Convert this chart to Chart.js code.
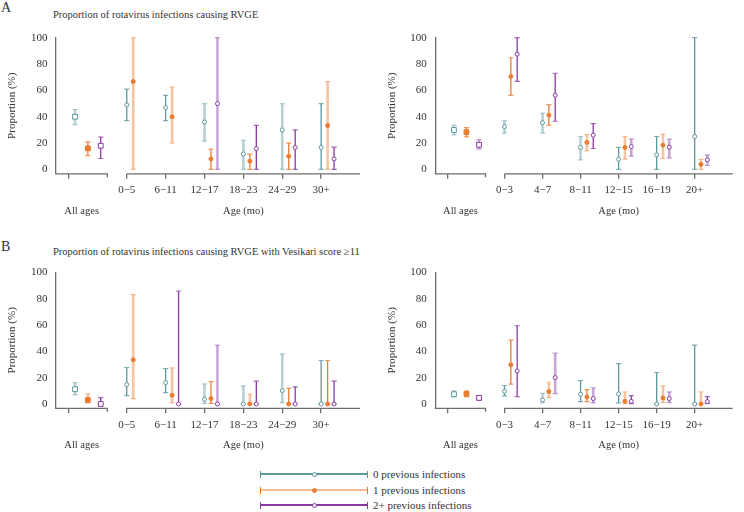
<!DOCTYPE html>
<html><head><meta charset="utf-8">
<script src="https://cdn.jsdelivr.net/npm/chart.js@4"></script>
<style>
body{margin:0;background:#fff;width:744px;height:512px;position:relative;overflow:hidden;font-family:'Liberation Serif',serif;color:#333}
canvas{position:absolute}
.t{position:absolute;white-space:nowrap;font-size:10.5px;line-height:14px}
.ln{position:absolute}
</style></head><body>
<div class="t" style="left:1px;top:0px;font-size:14px;line-height:16px">A</div>
<div class="t" style="left:53px;top:8px">Proportion of rotavirus infections causing RVGE</div>
<div class="t" style="left:1px;top:239px;font-size:14px;line-height:16px">B</div>
<div class="t" style="left:53px;top:245px">Proportion of rotavirus infections causing RVGE with Vesikari score ≥11</div>
<canvas id="al" width="372" height="240" style="left:0;top:0;width:372px;height:240px"></canvas>
<canvas id="ar" width="372" height="240" style="left:372px;top:0;width:372px;height:240px"></canvas>
<canvas id="bl" width="372" height="220" style="left:0;top:240px;width:372px;height:220px"></canvas>
<canvas id="br" width="372" height="220" style="left:372px;top:240px;width:372px;height:220px"></canvas>
<div id="legend"></div>
<script>
// ---------- data ----------
const seriesNames = ['0 previous infections', '1 previous infections', '2+ previous infections'];
const agesA = ['0−5', '6−11', '12−17', '18−23', '24−29', '30+'];
const agesR = ['0−3', '4−7', '8−11', '12−15', '16−19', '20+'];
const yTicks = [0, 20, 40, 60, 80, 100];
const groupLabel = 'All ages';
const axisLabel = 'Age (mo)';
const yTitle = 'Proportion (%)';

// Panel A, left (all ages: series 0,1,2)
const AL_allEst = [40, 16, 18], AL_allLo = [34, 10.5, 8.3], AL_allHi = [45.5, 21, 24.5];
const AL_est0 = [49, 47, 36, 11.8, 30, 16.7], AL_lo0 = [37, 37, 21.5, 0, 0, 0], AL_hi0 = [61, 56.3, 50, 22.2, 50, 50];
const AL_est1 = [66.7, 40, 8, 6.3, 10, 33.3], AL_lo1 = [0, 20, 0, 0, 0, 0], AL_hi1 = [100, 62.5, 15.4, 11.6, 20, 66.7];
const AL_est2 = [null, null, 50, 15.8, 16.7, 8], AL_lo2 = [null, null, 0, 0, 0, 0], AL_hi2 = [null, null, 100, 33.5, 30, 16.9];

// Panel A, right
const AR_allEst = [30, 28.3, 18.7], AR_allLo = [26.3, 24.7, 15.4], AR_allHi = [33.6, 31.8, 22.7];
const AR_est0 = [32.5, 35.5, 16.7, 7.7, 11.1, 25], AR_lo0 = [27.5, 27.5, 7.3, 0, 0, 0], AR_hi0 = [37, 42.7, 25, 16.7, 25, 100];
const AR_est1 = [70.5, 41.2, 20.5, 16.7, 18.4, 3.8], AR_lo1 = [56.3, 33.6, 14.1, 7.8, 8.3, 0], AR_hi1 = [84.8, 49.2, 26.5, 25, 26.8, 7.6];
const AR_est2 = [87.5, 56.3, 26, 17.4, 16.9, 7.3], AR_lo2 = [66.9, 36.6, 15.9, 10.1, 8.8, 3], AR_hi2 = [100, 73, 34.8, 23.2, 23, 11.1];

// Panel B, left
const BL_allEst = [11.2, 3, 0], BL_allLo = [6.9, 0.8, 0], BL_allHi = [16.2, 7.6, 4.8];
const BL_est0 = [14.7, 16.2, 3.6, 0, 10.2, 0], BL_lo0 = [6.3, 8.6, 0.3, 0, 1, 0], BL_hi0 = [27.7, 26.9, 15.2, 13.7, 38, 33];
const BL_est1 = [33.5, 6.6, 4.1, 0, 0, 0], BL_lo1 = [3.8, 0.8, 0.5, 0, 0, 0], BL_hi1 = [83, 27.4, 17, 7.4, 11.9, 33];
const BL_est2 = [null, 0, 0, 0, 0, 0], BL_lo2 = [null, 0, 0, 0, 0, 0], BL_hi2 = [null, 85.8, 44.7, 17.3, 12.9, 17.3];

// Panel B, right
const BR_allEst = [7.4, 7.6, 4.6], BR_allLo = [5.3, 5.3, 2.8], BR_allHi = [9.9, 10.4, 6.3];
const BR_est0 = [9.6, 3, 7.4, 7.6, 0, 0], BR_lo0 = [6.1, 0.8, 1.8, 0.8, 0, 0], BR_hi0 = [14, 8.1, 17.8, 30.7, 23.9, 44.7];
const BR_est1 = [29.7, 9.4, 5.3, 2, 4.6, 0], BR_lo1 = [15, 4.8, 1.8, 0.3, 1, 0], BR_hi1 = [48.5, 16.5, 10.9, 9.1, 13.7, 9.1];
const BR_est2 = [25.1, 20, 4.1, 2, 4.1, 1.8], BR_lo2 = [5.6, 7.9, 0.8, 0.3, 1, 0.5], BR_hi2 = [59.4, 38.6, 12.2, 6.3, 9.1, 5.6];

// ---------- style (faint bars: index 0 = all ages, then age groups) ----------
const AL_faint = [[1,0,0,1,1,1,0],[0,1,1,0,0,0,1],[0,0,0,1,0,0,0]];
const AR_faint = [[1,1,1,1,0,0,0],[0,0,0,1,1,1,1],[1,0,0,0,1,1,1]];
const BL_faint = [[1,0,0,1,1,1,0],[1,1,1,0,1,0,0],[0,0,0,1,0,0,0]];
const BR_faint = [[1,0,1,0,0,0,0],[1,0,1,0,1,1,1],[0,0,1,1,0,1,0]];

const RGB = [[92,152,157],[233,124,48],[138,58,162]];
const col = (s, a) => `rgba(${RGB[s][0]},${RGB[s][1]},${RGB[s][2]},${a})`;
const FONT = "'Liberation Serif', serif";
const FS = 11, FS2 = 10.5;
const AXIS_COL = '#6e6e6e';
const X_MIN = -1.82, X_MAX = 6.0, GROUP_TICK = -1.5, GROUP_END = -0.5;
const ALL_OFF = [0.17, 0.5, 0.83], AGE_OFF = [0, 0.167, 0.333];

const errorBars = {
  id: 'errorBars',
  beforeDatasetsDraw(chart) {
    const {ctx, scales: {x, y}} = chart;
    ctx.save();
    chart.data.datasets.forEach(ds => {
      ds.data.forEach(p => {
        const px = x.getPixelForValue(p.x);
        const yt = y.getPixelForValue(p.hi), yb = y.getPixelForValue(p.lo);
        ctx.strokeStyle = p.faint ? col(ds.sIdx, 0.45) : col(ds.sIdx, 1);
        ctx.lineWidth = p.faint ? 2.6 : 1.3;
        ctx.beginPath(); ctx.moveTo(px, yt); ctx.lineTo(px, yb); ctx.stroke();
        ctx.strokeStyle = col(ds.sIdx, p.faint ? 0.45 : 0.75);
        ctx.lineWidth = 1.2;
        ctx.beginPath();
        ctx.moveTo(px - 2.6, yt); ctx.lineTo(px + 2.6, yt);
        ctx.moveTo(px - 2.6, yb); ctx.lineTo(px + 2.6, yb);
        ctx.stroke();
      });
    });
    ctx.restore();
  }
};

const axisDeco = {
  id: 'axisDeco',
  afterDraw(chart) {
    const {ctx, chartArea: a, scales: {x}} = chart;
    ctx.save();
    ctx.strokeStyle = AXIS_COL; ctx.lineWidth = 1.3;
    const yb = a.bottom;
    const e1 = x.getPixelForValue(GROUP_END), s2 = x.getPixelForValue(0);
    ctx.beginPath();
    ctx.moveTo(a.left - 0.6, yb); ctx.lineTo(e1, yb); ctx.lineTo(e1, yb + 3.5);
    ctx.moveTo(s2, yb); ctx.lineTo(a.right, yb);
    ctx.stroke();
    if (chart.options.plugins.axisDeco.labels) {
      ctx.fillStyle = '#333'; ctx.font = FS2 + 'px ' + FONT;
      ctx.textAlign = 'center'; ctx.textBaseline = 'middle';
      ctx.fillText(groupLabel, x.getPixelForValue((X_MIN + GROUP_END) / 2), yb + 37);
      ctx.fillText(axisLabel, x.getPixelForValue(X_MAX / 2), yb + 37);
    }
    ctx.restore();
  }
};

function panel(id, cats, allEst, allLo, allHi, est, lo, hi, faint, L) {
  const datasets = [0, 1, 2].map(s => {
    const pts = [{x: GROUP_TICK + ALL_OFF[s], y: allEst[s], lo: allLo[s], hi: allHi[s], faint: faint[s][0], all: true}];
    cats.forEach((c, i) => {
      if (est[s][i] == null) return;
      pts.push({x: i + AGE_OFF[s], y: est[s][i], lo: lo[s][i], hi: hi[s][i], faint: faint[s][i + 1], all: false});
    });
    return {
      label: seriesNames[s], sIdx: s, data: pts, clip: false, showLine: false,
      pointStyle: c => (c.raw && c.raw.all) ? 'rect' : 'circle',
      pointRadius: c => (c.raw && c.raw.all) ? 3.4 : 2,
      borderColor: col(s, 1), backgroundColor: s === 1 ? col(s, 1) : '#fff', borderWidth: 1
    };
  });
  new Chart(document.getElementById(id), {
    type: 'scatter',
    data: {datasets},
    plugins: [errorBars, axisDeco],
    options: {
      responsive: false, animation: false, events: [],
      layout: {padding: {left: 0, right: L.pr, top: L.pt, bottom: 0}},
      plugins: {legend: {display: false}, tooltip: {enabled: false}, axisDeco: {labels: L.labels}},
      scales: {
        x: {
          type: 'linear', min: X_MIN, max: X_MAX,
          afterBuildTicks: sc => { sc.ticks = [GROUP_TICK].concat(cats.map((c, i) => i)).map(v => ({value: v})); },
          afterFit: sc => { sc.height = L.xh; },
          ticks: {autoSkip: false, maxRotation: 0, padding: 5, color: '#333', font: {family: FONT, size: FS},
            callback: (v, i) => i === 0 ? '' : cats[i - 1]},
          grid: {drawOnChartArea: false, drawTicks: true, tickLength: 5, color: AXIS_COL, lineWidth: 1.3},
          border: {display: false}
        },
        y: {
          type: 'linear', min: -3.3, max: 100,
          afterBuildTicks: sc => { sc.ticks = yTicks.map(v => ({value: v})); },
          afterFit: sc => { sc.width = L.yw; },
          ticks: {padding: 8.5, color: '#333', font: {family: FONT, size: FS}},
          grid: {display: false, drawTicks: false},
          border: {display: true, color: AXIS_COL, width: 1.3},
          title: {display: true, text: yTitle, color: '#333', font: {family: FONT, size: FS}, padding: {top: L.tp, bottom: 0}}
        }
      }
    }
  });
}

function drawAll() {
  Chart.defaults.font.family = FONT;
  panel('al', agesA, AL_allEst, AL_allLo, AL_allHi, [AL_est0, AL_est1, AL_est2], [AL_lo0, AL_lo1, AL_lo2], [AL_hi0, AL_hi1, AL_hi2], AL_faint,
    {pr: 12, pt: 37.7, xh: 240 - 173.8, yw: 56, tp: 5.4, labels: true});
  panel('ar', agesR, AR_allEst, AR_allLo, AR_allHi, [AR_est0, AR_est1, AR_est2], [AR_lo0, AR_lo1, AR_lo2], [AR_hi0, AR_hi1, AR_hi2], AR_faint,
    {pr: 11.3, pt: 37.7, xh: 240 - 173.8, yw: 63.3, tp: 13.4, labels: true});
  panel('bl', agesA, BL_allEst, BL_allLo, BL_allHi, [BL_est0, BL_est1, BL_est2], [BL_lo0, BL_lo1, BL_lo2], [BL_hi0, BL_hi1, BL_hi2], BL_faint,
    {pr: 12, pt: 32.3, xh: 220 - 168.3, yw: 56, tp: 5.4, labels: true});
  panel('br', agesR, BR_allEst, BR_allLo, BR_allHi, [BR_est0, BR_est1, BR_est2], [BR_lo0, BR_lo1, BR_lo2], [BR_hi0, BR_hi1, BR_hi2], BR_faint,
    {pr: 11.3, pt: 32.3, xh: 220 - 168.3, yw: 63.3, tp: 13.4, labels: true});
}

// ---------- legend ----------
const legendFaint = [0, 1, 0];
const lg = document.getElementById('legend');
const rows = [474, 490, 505];
seriesNames.forEach((name, s) => {
  const y = rows[s], w = legendFaint[s] ? 2.6 : 1.2, c = col(s, legendFaint[s] ? 0.5 : 1);
  const add = (css) => { const d = document.createElement('div'); d.className = 'ln'; d.style.cssText = css; lg.appendChild(d); };
  add(`left:260px;width:108px;top:${y - w / 2}px;height:${w}px;background:${c}`);
  add(`left:259.5px;width:1.2px;top:${y - 3.5}px;height:7px;background:${col(s, 1)}`);
  add(`left:367px;width:1.2px;top:${y - 3.5}px;height:7px;background:${col(s, 1)}`);
  add(`left:312px;width:3px;height:3px;top:${y - 2.5}px;border-radius:50%;border:1px solid ${col(s, 1)};background:${s === 1 ? col(s, 1) : '#fff'}`);
  const t = document.createElement('div'); t.className = 't'; t.textContent = name;
  t.style.cssText += `left:373px;top:${y - 7.5}px;font-size:11px`; lg.appendChild(t);
});

drawAll();
</script>
</body></html>
